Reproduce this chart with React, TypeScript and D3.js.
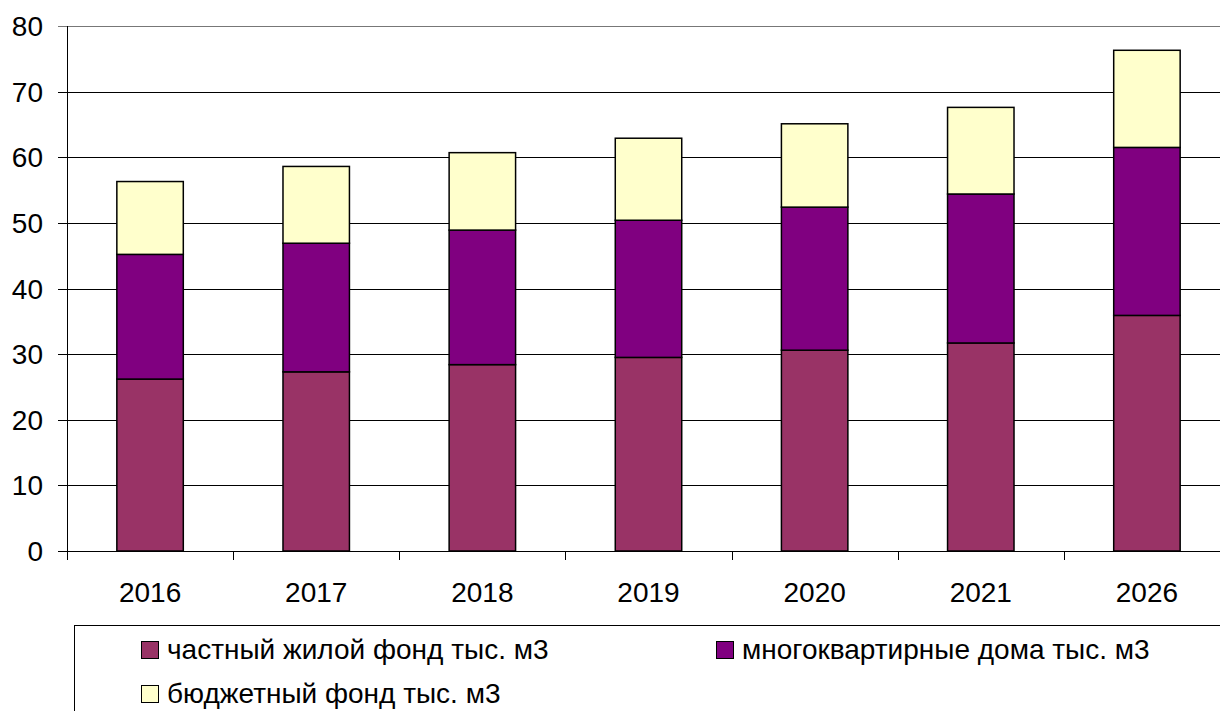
import { useRef, useEffect } from 'react';
import * as d3 from 'd3';

const W = 1220;
const H = 711;
const MARGIN = { top: 26, left: 67 };
const PLOT_RIGHT = 1230;
const ZERO_Y = 551;

const years = ['2016', '2017', '2018', '2019', '2020', '2021', '2026'];
const privateHousing = [26.2, 27.3, 28.4, 29.5, 30.6, 31.7, 35.9];
const apartmentBlocks = [19.0, 19.6, 20.5, 20.9, 21.8, 22.7, 25.6];
const budgetFund = [11.1, 11.7, 11.8, 12.5, 12.7, 13.2, 14.8];
const yTicks = [0, 10, 20, 30, 40, 50, 60, 70, 80];

const seriesNames = ['частный жилой фонд тыс. м3', 'многоквартирные дома тыс. м3', 'бюджетный фонд тыс. м3'];
const seriesColors = ['#993366', '#800080', '#FFFFCC'];

const FONT = '"Liberation Sans", Arial, sans-serif';

export default function App() {
  const svgRef = useRef<SVGSVGElement | null>(null);

  useEffect(() => {
    if (!svgRef.current) return;
    const svg = d3.select(svgRef.current);
    svg.selectAll('*').remove();

    const y = d3.scaleLinear().domain([0, 80]).range([ZERO_Y, MARGIN.top]);
    const x = d3.scaleBand<string>().domain(years).range([MARGIN.left, PLOT_RIGHT]).paddingInner(0.6).paddingOuter(0.3);
    const step = x.step();

    svg.append('rect').attr('width', W).attr('height', H).attr('fill', '#fff');

    // gridlines
    svg.append('g').selectAll('line').data(yTicks).join('line')
      .attr('x1', MARGIN.left - 9).attr('x2', PLOT_RIGHT)
      .attr('y1', d => Math.round(y(d)) + 0.5).attr('y2', d => Math.round(y(d)) + 0.5)
      .attr('stroke', d => (d === 80 ? '#777' : '#000')).attr('stroke-width', 1);

    // y axis
    svg.append('line')
      .attr('x1', MARGIN.left + 0.5).attr('x2', MARGIN.left + 0.5)
      .attr('y1', y(80)).attr('y2', y(0) + 9)
      .attr('stroke', '#000');

    svg.append('g').selectAll('text').data(yTicks).join('text')
      .attr('x', 43).attr('y', d => y(d)).attr('dy', '0.36em')
      .attr('text-anchor', 'end')
      .style('font-family', FONT).style('font-size', '28px')
      .text(d => d);

    // x axis ticks at band boundaries
    svg.append('g').selectAll('line').data(d3.range(years.length + 1)).join('line')
      .attr('x1', i => Math.round(MARGIN.left + i * step) + 0.5).attr('x2', i => Math.round(MARGIN.left + i * step) + 0.5)
      .attr('y1', y(0)).attr('y2', y(0) + 9)
      .attr('stroke', '#000');

    svg.append('g').selectAll('text').data(years).join('text')
      .attr('x', d => (x(d) ?? 0) + x.bandwidth() / 2).attr('y', 602)
      .attr('text-anchor', 'middle')
      .style('font-family', FONT).style('font-size', '28px')
      .text(d => d);

    // stacked bars
    const rows = years.map((yr, i) => ({ year: yr, s0: privateHousing[i], s1: apartmentBlocks[i], s2: budgetFund[i] }));
    const stack = d3.stack<any>().keys(['s0', 's1', 's2'])(rows);
    stack.forEach((layer, li) => {
      svg.append('g').selectAll('rect').data(layer).join('rect')
        .attr('x', d => x(d.data.year) ?? 0)
        .attr('width', x.bandwidth())
        .attr('y', d => y(d[1]))
        .attr('height', d => y(d[0]) - y(d[1]))
        .attr('fill', seriesColors[li])
        .attr('stroke', '#000').attr('stroke-width', 1.5);
    });

    // legend
    svg.append('rect')
      .attr('x', 74.5).attr('y', 625.5).attr('width', 1200).attr('height', 120)
      .attr('fill', '#fff').attr('stroke', '#000');

    const legendPos = [
      { x: 141, y: 659 },
      { x: 716, y: 659 },
      { x: 141, y: 703 },
    ];
    const lg = svg.append('g').selectAll('g').data(seriesNames).join('g')
      .attr('transform', (_, i) => `translate(${legendPos[i].x},${legendPos[i].y})`);
    lg.append('rect')
      .attr('x', 0.5).attr('y', -17.5).attr('width', 17).attr('height', 17)
      .attr('fill', (_, i) => seriesColors[i]).attr('stroke', '#000');
    lg.append('text')
      .attr('x', 26).attr('y', 0)
      .style('font-family', FONT).style('font-size', '28px')
      .text(d => d);
  }, []);

  return (
    <svg ref={svgRef} width={W} height={H} style={{ position: 'absolute', left: 0, top: 0, display: 'block' }} />
  );
}
